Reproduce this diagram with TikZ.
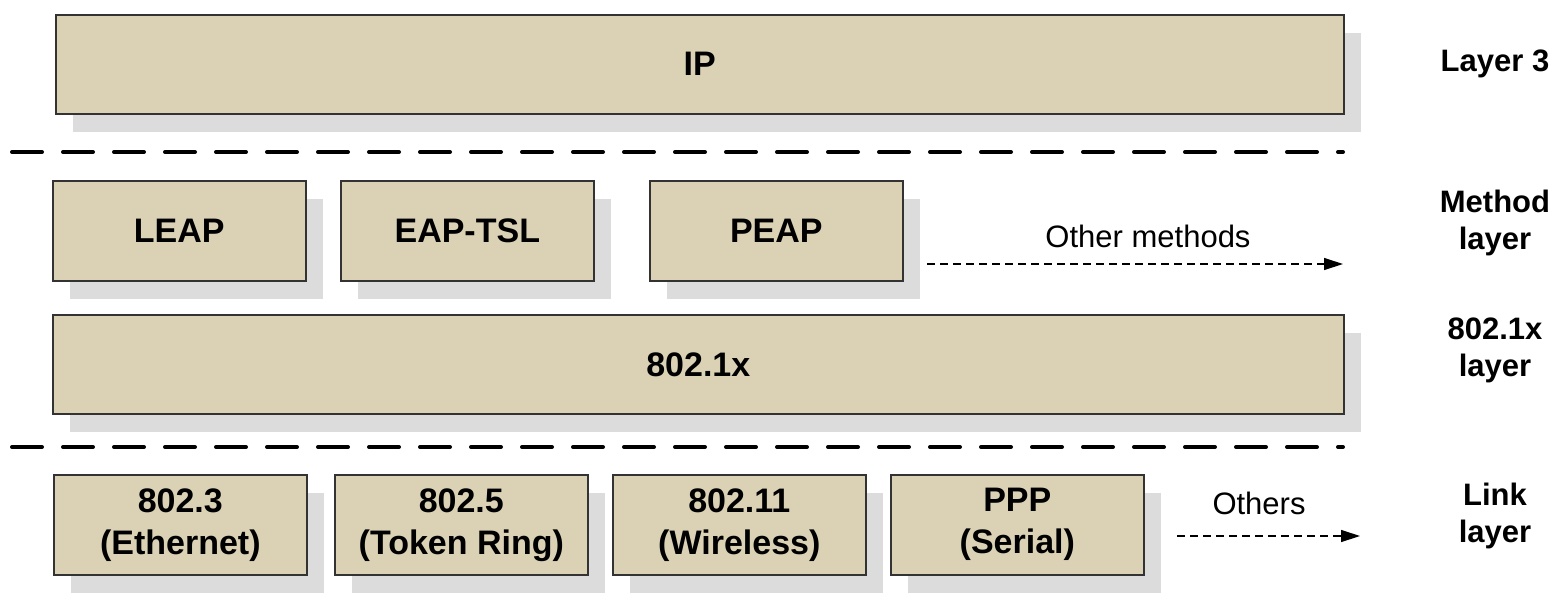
\documentclass[tikz,border=0pt]{standalone}
\usepackage{fontspec}
\setmainfont{Liberation Sans}
\usetikzlibrary{shadows,arrows.meta}
\definecolor{boxfill}{HTML}{DBD2B6}
\definecolor{shadowgray}{HTML}{DCDCDC}
\definecolor{boxline}{HTML}{333333}
\tikzset{
  layerbox/.style={draw=boxline, line width=1.6pt, fill=boxfill, anchor=north west,
    inner sep=0pt, align=center, font=\fontsize{34}{42}\selectfont\bfseries,
    drop shadow={shadow xshift=17pt, shadow yshift=-18pt, fill=shadowgray, opacity=1}},
  sidelabel/.style={align=center, font=\fontsize{31}{37}\selectfont\bfseries},
  plainlabel/.style={font=\fontsize{31}{37}\selectfont},
  separator/.style={line width=4pt, line cap=round, dash pattern=on 30pt off 21pt},
  moreline/.style={line width=1.2pt, dash pattern=on 8pt off 5pt, -{Triangle[length=19pt,width=12pt]}}
}
\begin{document}
\begin{tikzpicture}[x=1pt,y=-1pt]
\useasboundingbox (0,0) rectangle (1566,592);
% Layer 3
\node[layerbox, minimum width=1288pt, minimum height=99pt] (ip) at (55,14) {IP};
\coordinate (s1a) at (12,152); \coordinate (s1b) at (1343,152);
\draw[separator] (s1a) -- (s1b);
% Method layer
\node[layerbox, minimum width=253pt, minimum height=100pt] (leap) at (52,180) {LEAP};
\node[layerbox, minimum width=253pt, minimum height=100pt] (eaptsl) at (340,180) {EAP-TSL};
\node[layerbox, minimum width=253pt, minimum height=100pt] (peap) at (649,180) {PEAP};
\coordinate (m1) at (927,264); \coordinate (m2) at (1343,264);
\draw[moreline] (m1) -- (m2);
\node[plainlabel] (othm) at (1148,236) {Other methods};
% 802.1x
\node[layerbox, minimum width=1291pt, minimum height=99pt] (dot1x) at (52,314) {802.1x};
\coordinate (s2a) at (12,447); \coordinate (s2b) at (1343,447);
\draw[separator] (s2a) -- (s2b);
% Link layer
\node[layerbox, minimum width=253pt, minimum height=100pt] (e3) at (53,474) {802.3\\(Ethernet)};
\node[layerbox, minimum width=253pt, minimum height=100pt] (e5) at (334,474) {802.5\\(Token Ring)};
\node[layerbox, minimum width=253pt, minimum height=100pt] (e11) at (612,474) {802.11\\(Wireless)};
\node[layerbox, minimum width=253pt, minimum height=100pt] (ppp) at (890,474) {PPP\\(Serial)};
\coordinate (o1) at (1177,536); \coordinate (o2) at (1360,536);
\draw[moreline] (o1) -- (o2);
\node[plainlabel] (oth) at (1259,503) {Others};
% side labels
\node[sidelabel] (l3) at (1495,64) {Layer 3};
\node[sidelabel] (lm) at (1495,223) {Method\\layer};
\node[sidelabel] (l1x) at (1495,350) {802.1x\\layer};
\node[sidelabel] (ll) at (1495,516) {Link\\layer};
\end{tikzpicture}
\end{document}
